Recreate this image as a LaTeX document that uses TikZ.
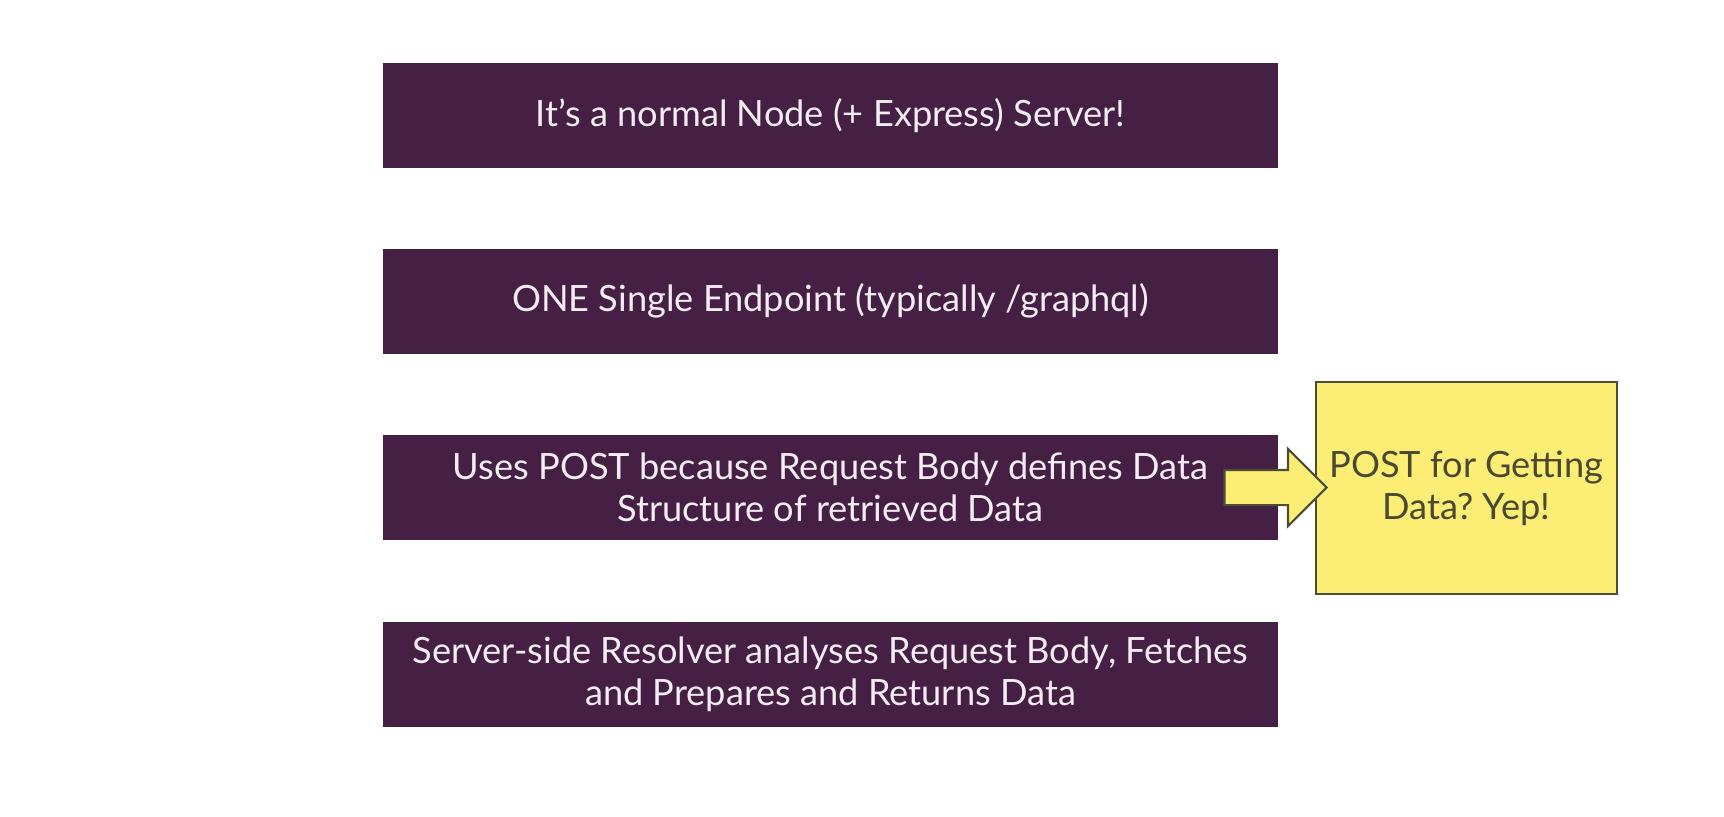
\documentclass[tikz,border=0pt]{standalone}
\usepackage{fontspec}
\setmainfont{Lato}
\usepackage{tikz}
\usetikzlibrary{shapes.arrows}
\definecolor{slide}{RGB}{69,32,68}
\definecolor{slidetext}{RGB}{246,236,244}
\definecolor{notefill}{RGB}{252,238,117}
\definecolor{noteline}{RGB}{78,76,52}
\definecolor{notetext}{RGB}{74,72,46}
\frenchspacing

\begin{document}
\begin{tikzpicture}
\tikzstyle{bar}=[rectangle,fill=slide,text=slidetext,minimum width=8.95cm,minimum height=1.05cm,inner sep=0pt,align=center,font=\fontsize{10.3}{11.9}\selectfont]
\tikzstyle{note}=[rectangle,fill=notefill,draw=noteline,line width=0.6pt,text=notetext,minimum width=3.01cm,minimum height=2.12cm,inner sep=0pt,align=center,font=\fontsize{10.3}{11.9}\selectfont]
\tikzstyle{bigarrow}=[single arrow,fill=notefill,draw=noteline,line width=0.6pt,inner xsep=0pt,inner ysep=0.165cm,single arrow head extend=0.21cm,minimum height=1.02cm]
\fill[white] (0,0) rectangle (17.24,8.16);
\node[bar] (1) at (8.305,7.005) {It’s a normal Node (+ Express) Server!};
\node[bar] (2) at (8.305,5.15) {ONE Single Endpoint (typically /graphql)};
\node[bar] (3) at (8.305,3.285) {Uses POST because Request Body defines Data\\Structure of retrieved Data};
\node[bar] (4) at (8.305,1.42) {Server-side Resolver analyses Request Body, Fetches\\and Prepares and Returns Data};
\node[note] (5) at (14.665,3.28) {POST for Getting\\Data? Yep!};
\node[bigarrow,anchor=tip] (6) at (13.28,3.285) {};
\end{tikzpicture}
\end{document}
